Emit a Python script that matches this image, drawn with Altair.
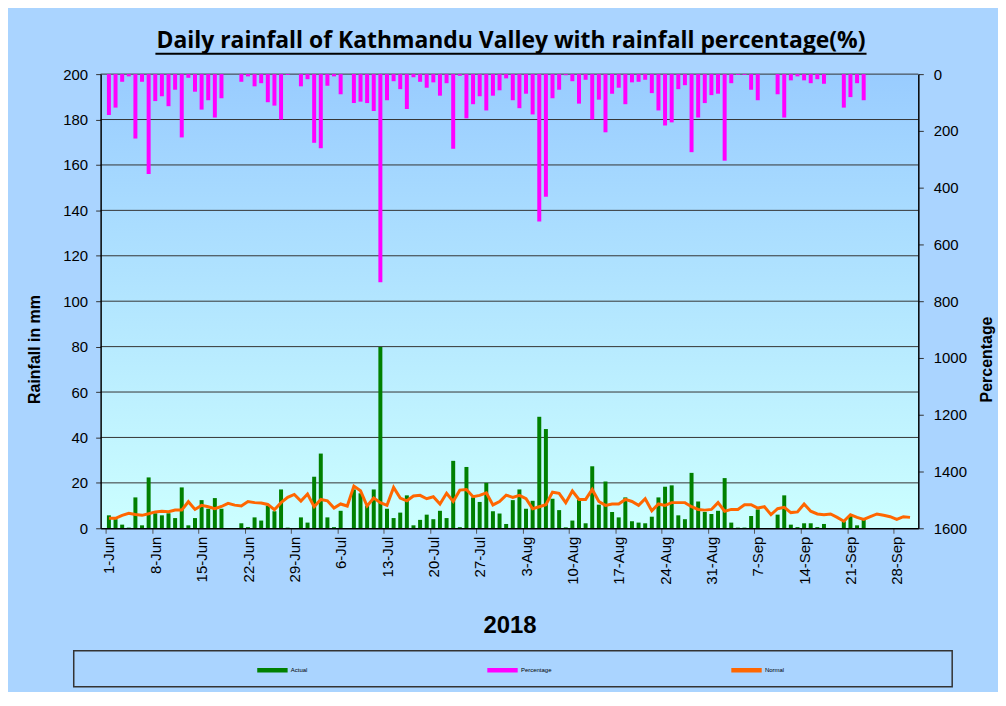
import json
import pandas as pd
import altair as alt

# ---------------- data ----------------
DATES = pd.date_range("2018-06-01", "2018-09-30", freq="D").strftime("%Y-%m-%d").tolist()

ACTUAL = [
    5.7, 4.0, 1.6, 0.3, 13.6, 1.3, 22.4, 6.6, 5.7, 6.6,
    4.5, 18.0, 1.3, 4.5, 12.4, 8.6, 13.3, 8.6, 0.0, 0.0,
    2.2, 0.5, 4.8, 3.4, 10.0, 7.5, 17.1, 0.3, 0.0, 4.8,
    2.5, 22.7, 32.9, 4.8, 0.5, 7.7, 0.0, 17.1, 15.4, 10.0,
    17.1, 79.8, 8.6, 4.5, 6.9, 14.5, 1.3, 3.7, 6.0, 4.0,
    7.7, 4.5, 29.7, 0.5, 27.0, 13.6, 11.6, 20.0, 7.5, 6.5,
    1.9, 12.4, 17.1, 8.6, 12.1, 49.1, 43.7, 13.0, 8.0, 0.4,
    3.4, 12.7, 2.2, 27.3, 10.4, 20.6, 7.2, 4.8, 13.6, 3.1,
    2.5, 2.2, 5.1, 13.6, 18.3, 18.9, 5.7, 4.0, 24.4, 11.8,
    7.2, 6.3, 7.7, 22.1, 2.5, 0.3, 0.3, 5.4, 8.3, 0.0,
    0.0, 6.0, 14.5, 1.6, 0.5, 2.2, 2.2, 0.5, 1.9, 0.0,
    0.0, 3.1, 5.4, 1.3, 3.7, 0.0, 0.0, 0.0, 0.0, 0.0,
    0.0, 0.0,
]

PERCENTAGE = [
    144, 118, 27, 8, 227, 27, 352, 95, 78, 113,
    55, 223, 13, 62, 125, 92, 153, 85, 0, 0,
    27, 8, 43, 32, 99, 111, 160, 3, 0, 43,
    18, 242, 261, 41, 8, 71, 0, 102, 97, 102,
    130, 733, 92, 25, 53, 123, 11, 27, 48, 29,
    76, 32, 263, 6, 156, 106, 78, 128, 76, 57,
    15, 92, 120, 69, 142, 519, 432, 85, 55, 4,
    25, 104, 20, 160, 90, 205, 69, 48, 106, 29,
    27, 20, 67, 128, 181, 170, 53, 39, 275, 153,
    102, 74, 69, 305, 32, 3, 3, 55, 92, 0,
    0, 71, 153, 22, 8, 22, 32, 18, 34, 0,
    0, 118, 81, 32, 92, 0, 0, 0, 0, 0,
    0, 0,
]

NORMAL = [
    4.4, 4.4, 5.7, 6.6, 6.1, 5.7, 6.4, 7.2, 7.5, 7.3,
    8.0, 8.0, 11.7, 8.3, 10.1, 9.5, 8.6, 9.6, 11.0, 10.2,
    9.8, 11.8, 11.3, 11.1, 10.5, 8.2, 11.3, 13.6, 14.9, 12.0,
    15.1, 9.5, 12.7, 12.1, 8.9, 10.7, 9.8, 18.6, 16.5, 9.8,
    13.3, 11.3, 10.1, 18.0, 13.3, 12.1, 14.2, 14.5, 13.0, 13.9,
    10.7, 15.4, 11.8, 16.8, 17.1, 13.9, 14.5, 15.6, 10.3, 11.8,
    14.6, 13.6, 14.5, 13.0, 8.6, 9.5, 10.4, 15.9, 15.4, 11.3,
    16.4, 12.7, 12.7, 17.1, 11.8, 10.1, 10.7, 10.7, 12.7, 11.8,
    10.1, 13.0, 7.7, 10.7, 10.1, 11.3, 11.3, 11.3, 9.5, 8.3,
    8.0, 8.3, 11.3, 7.5, 8.3, 8.3, 10.4, 10.4, 8.9, 9.5,
    6.0, 8.6, 9.2, 6.9, 7.2, 10.7, 7.5, 6.3, 6.0, 6.3,
    4.8, 3.1, 6.0, 4.8, 3.9, 5.1, 6.3, 5.7, 5.1, 3.9,
    5.1, 4.8,
]

TICK_LABELS = ["1-Jun", "8-Jun", "15-Jun", "22-Jun", "29-Jun", "6-Jul", "13-Jul",
               "20-Jul", "27-Jul", "3-Aug", "10-Aug", "17-Aug", "24-Aug", "31-Aug",
               "7-Sep", "14-Sep", "21-Sep", "28-Sep"]
LEFT_TICKS = list(range(0, 201, 20))
RIGHT_TICKS = list(range(0, 1601, 200))
SERIES = ["Actual", "Percentage", "Normal"]
COLORS = ["#008000", "#FF00FF", "#FF6600"]
TITLE = "Daily rainfall of Kathmandu Valley with rainfall percentage(%)"
X_TITLE = "2018"
Y_LEFT_TITLE = "Rainfall  in mm"
Y_RIGHT_TITLE = "Percentage"

n = len(DATES)
df = pd.DataFrame({"day": list(range(n)), "date": DATES,
                   "actual": ACTUAL[:n], "pct": PERCENTAGE[:n], "normal": NORMAL[:n]})

# ---------------- layout ----------------
W, H = 821, 456
FONT = "Liberation Sans"

x_scale = alt.Scale(domain=[0, n], nice=False, zero=False)
x_axis = alt.Axis(
    values=[7 * k for k in range(len(TICK_LABELS))],
    labelExpr=json.dumps(TICK_LABELS) + "[round(datum.value / 7)]",
    labelAngle=270, labelAlign="right", labelBaseline="middle",
    labelOffset=3.4, labelPadding=3, labelFontSize=15, labelFont=FONT,
    labelColor="black", labelOverlap=False, labelFlush=False,
    tickSize=5, tickColor="#555555", domainColor="black", domainWidth=1.5,
    grid=False, title=X_TITLE, titleFontSize=24, titleFontWeight="bold",
    titleFont=FONT, titleColor="black", titleY=98, titleBaseline="middle",
    zindex=1,
)

left_scale = alt.Scale(domain=[0, 200], nice=False, zero=True)
left_axis = alt.Axis(
    orient="left", values=LEFT_TICKS, format="d", grid=False, tickSize=5,
    tickColor="#333333", labelPadding=8, labelFontSize=15, labelFont=FONT,
    labelColor="black", domainColor="black", domainWidth=1.5,
    title=Y_LEFT_TITLE, titleFont=FONT, titleFontSize=16, titleFontWeight="bold",
    titleColor="black", titleAngle=270, titleX=-66, titleY=276,
    titleBaseline="middle", titleAlign="center", zindex=1,
)

right_scale = alt.Scale(domain=[0, 1600], nice=False, zero=True, reverse=True)
right_axis = alt.Axis(
    orient="right", values=RIGHT_TICKS, format="d", grid=False, tickSize=5,
    tickColor="#333333", labelPadding=10, labelFontSize=15, labelFont=FONT,
    labelColor="black", domainColor="black", domainWidth=1.5,
    title=Y_RIGHT_TITLE, titleFont=FONT, titleFontSize=16, titleFontWeight="bold",
    titleColor="black", titleAngle=270, titleX=68, titleY=286,
    titleBaseline="middle", titleAlign="center", zindex=1,
)

color_scale = alt.Scale(domain=SERIES, range=COLORS)
legend = alt.Legend(
    orient="none", legendX=157, legendY=583, direction="horizontal", title=None,
    symbolType="M-1,-0.1H1V0.1H-1Z", symbolSize=841, labelFontSize=6,
    labelFont=FONT, labelColor="black", labelOffset=3, columnPadding=178, padding=0,
)

base = alt.Chart(df).transform_calculate(xc="datum.day + 0.5")

grid = alt.Chart(pd.DataFrame({"g": LEFT_TICKS[1:]})).mark_rule(
    color="#333333", strokeWidth=1
).encode(y=alt.Y("g:Q", scale=left_scale, axis=left_axis))

green = base.transform_calculate(series="'Actual'").mark_bar(
    size=4, orient="vertical"
).encode(
    x=alt.X("xc:Q", scale=x_scale, axis=x_axis),
    y=alt.Y("actual:Q", scale=left_scale, axis=left_axis),
    color=alt.Color("series:N", scale=color_scale, legend=legend),
)

orange = base.transform_calculate(series="'Normal'").mark_line(strokeWidth=3).encode(
    x=alt.X("xc:Q", scale=x_scale, axis=x_axis),
    y=alt.Y("normal:Q", scale=left_scale, axis=left_axis),
    color=alt.Color("series:N", scale=color_scale, legend=legend),
)

left_group = alt.layer(grid, green, orange)

magenta = base.transform_calculate(series="'Percentage'").mark_bar(
    size=4, orient="vertical"
).encode(
    x=alt.X("xc:Q", scale=x_scale, axis=x_axis),
    y=alt.Y("pct:Q", scale=right_scale, axis=right_axis),
    color=alt.Color("series:N", scale=color_scale, legend=legend),
)

one = alt.Data(values=[{"t": TITLE}])
gradient = alt.LinearGradient(
    gradient="linear",
    stops=[alt.GradientStop(color="#99CCFF", offset=0),
           alt.GradientStop(color="#CCFFFF", offset=1)],
    x1=0, x2=0, y1=0, y2=1,
)
bg = alt.Chart(one).mark_rect(color=gradient).encode(
    x=alt.value(0), x2=alt.value(W), y=alt.value(0), y2=alt.value(H)
)

title_text = alt.Chart(one).mark_text(
    font="Open Sans", fontSize=23, fontWeight="bold", align="center",
    baseline="alphabetic", color="black"
).encode(text="t:N", x=alt.value(412), y=alt.value(-26))

underline = alt.Chart(one).mark_rule(color="black", strokeWidth=2).encode(
    x=alt.value(55), x2=alt.value(769), y=alt.value(-20.5)
)

legend_box = alt.Chart(one).mark_rect(
    fillOpacity=0, stroke="#333333", strokeWidth=1.5
).encode(x=alt.value(-27), x2=alt.value(855), y=alt.value(579), y2=alt.value(615))

chart = alt.layer(
    bg, left_group, magenta, title_text, underline, legend_box
).resolve_scale(y="independent").properties(
    width=W, height=H,
    autosize=alt.AutoSizeParams(type="none"),
    padding={"left": 93, "top": 65, "right": 80, "bottom": 163},
).configure(background="#AAD4FF").configure_view(stroke=None)

chart.save("out.html", embed_options={"renderer": "svg", "actions": False})
